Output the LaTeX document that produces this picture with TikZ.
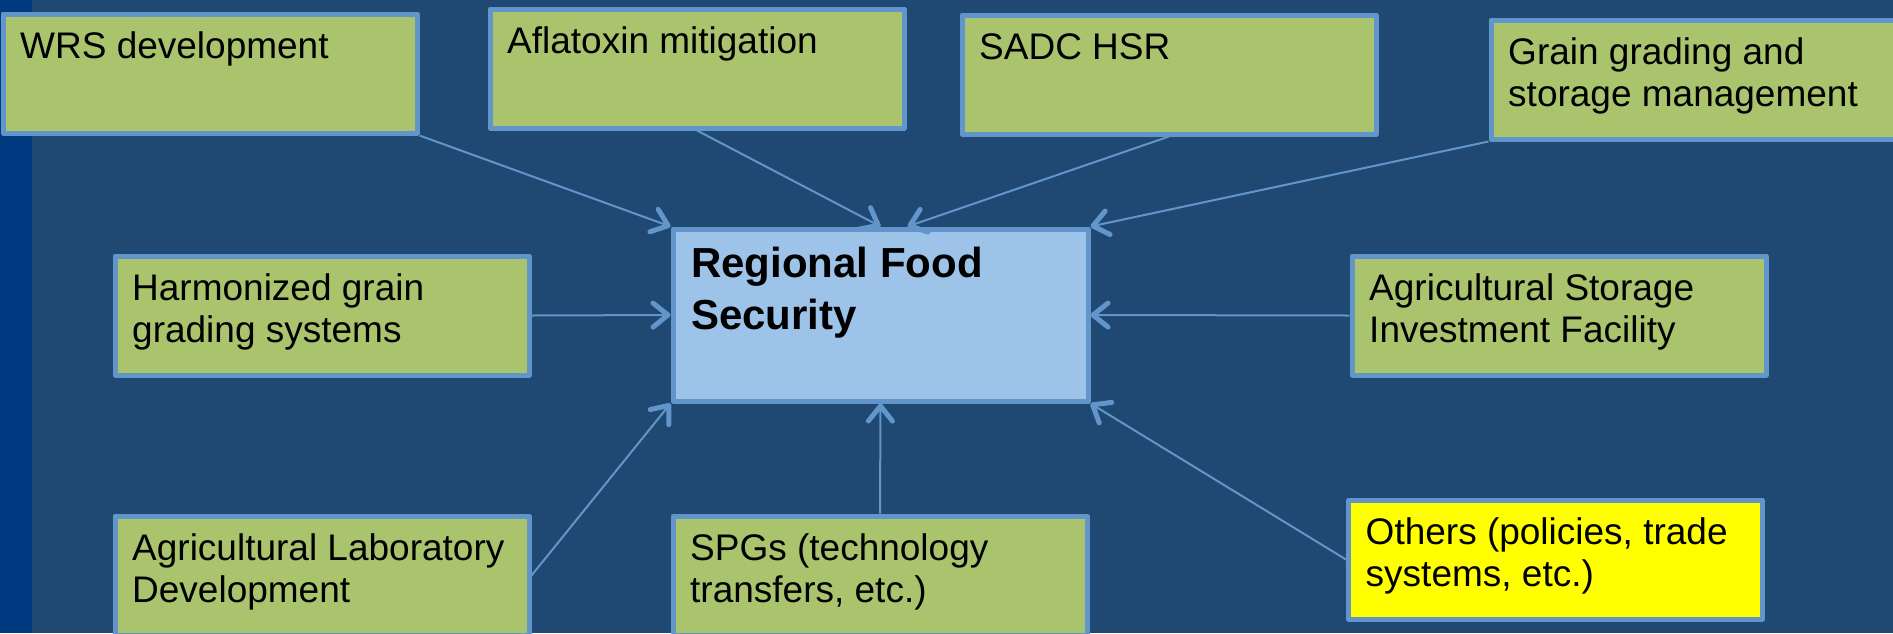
\documentclass[tikz,border=0pt]{standalone}
\usepackage{fontspec}
\setmainfont{Liberation Sans}
\usetikzlibrary{arrows.meta,calc}
\definecolor{bgblue}{RGB}{31,72,114}
\definecolor{stripeblue}{RGB}{0,58,128}
\definecolor{bordblue}{RGB}{98,150,203}
\definecolor{boxgreen}{RGB}{170,196,110}
\definecolor{centralfill}{RGB}{158,195,232}
\definecolor{hiyellow}{RGB}{255,255,0}
\begin{document}
\begin{tikzpicture}[x=1pt,y=-1pt,
  gbox/.style={draw=bordblue, fill=boxgreen, line width=5pt, line join=round, inner sep=0pt,
    minimum width=414pt, minimum height=119pt, anchor=north west},
  ybox/.style={gbox, fill=hiyellow},
  cbox/.style={gbox, fill=centralfill, minimum width=415pt, minimum height=172pt},
  txt/.style={anchor=base west, inner sep=0pt, font=\fontsize{37}{42.5}\selectfont},
  btxt/.style={anchor=base west, inner sep=0pt, font=\fontsize{42}{52}\selectfont\bfseries},
  conn/.style={draw=bordblue, line width=2pt,
    -{Straight Barb[length=15pt,width=24pt,line width=5pt,round]}}]
\clip (0,0) rectangle (1893,633);
\fill[bgblue] (0,0) rectangle (1893,633);
\fill[stripeblue] (0,0) rectangle (32,633);

% boxes
\node[gbox] (wrs) at (0.5,11.5) {};
\node[gbox] (afla) at (487.5,6.5) {};
\node[gbox] (sadc) at (959.5,12.5) {};
\node[gbox] (grain) at (1488.5,17.5) {};
\node[gbox] (harm) at (112.5,253.5) {};
\node[gbox] (stor) at (1349.5,253.5) {};
\node[gbox] (lab) at (112.5,513.5) {};
\node[gbox] (spg) at (670.5,513.5) {};
\node[ybox] (oth) at (1346,497.5) {};
\node[cbox] (central) at (670.5,226.5) {};

% texts
\node[txt] (t-wrs) at ($(wrs.north west)+(19.5,46.5)$) {\parbox[t]{390pt}{WRS development}};
\node[txt] (t-afla) at ($(afla.north west)+(19.5,46.5)$) {\parbox[t]{390pt}{Aflatoxin mitigation}};
\node[txt] (t-sadc) at ($(sadc.north west)+(19.5,46.5)$) {\parbox[t]{390pt}{SADC HSR}};
\node[txt] (t-grain) at ($(grain.north west)+(19.5,46.5)$) {\parbox[t]{390pt}{Grain grading and\\storage management}};
\node[txt] (t-harm) at ($(harm.north west)+(19.5,46.5)$) {\parbox[t]{390pt}{Harmonized grain\\grading systems}};
\node[txt] (t-stor) at ($(stor.north west)+(19.5,46.5)$) {\parbox[t]{390pt}{Agricultural Storage\\Investment Facility}};
\node[txt] (t-lab) at ($(lab.north west)+(19.5,46.5)$) {\parbox[t]{390pt}{Agricultural Laboratory\\Development}};
\node[txt] (t-spg) at ($(spg.north west)+(19.5,46.5)$) {\parbox[t]{390pt}{SPGs (technology\\transfers, etc.)}};
\node[txt] (t-oth) at ($(oth.north west)+(19.5,46.5)$) {\parbox[t]{390pt}{Others (policies, trade\\systems, etc.)}};
\node[btxt] (t-central) at ($(central.north west)+(20.5,50.5)$) {\parbox[t]{390pt}{Regional Food\\Security}};

% connectors
\coordinate (sadcend) at ($(central.north)+(27,0)$);
\draw[conn] (wrs.south east) -- (central.north west);
\draw[conn] (afla.south) -- (central.north);
\draw[conn] (sadc.south) -- (sadcend);
\draw[conn] (grain.south west) -- (central.north east);
\draw[conn] (harm.east) -- (central.west);
\draw[conn] (stor.west) -- (central.east);
\draw[conn] (lab.east) -- (central.south west);
\draw[conn] (spg.north) -- (central.south);
\draw[conn] (oth.west) -- (central.south east);
\end{tikzpicture}
\end{document}
